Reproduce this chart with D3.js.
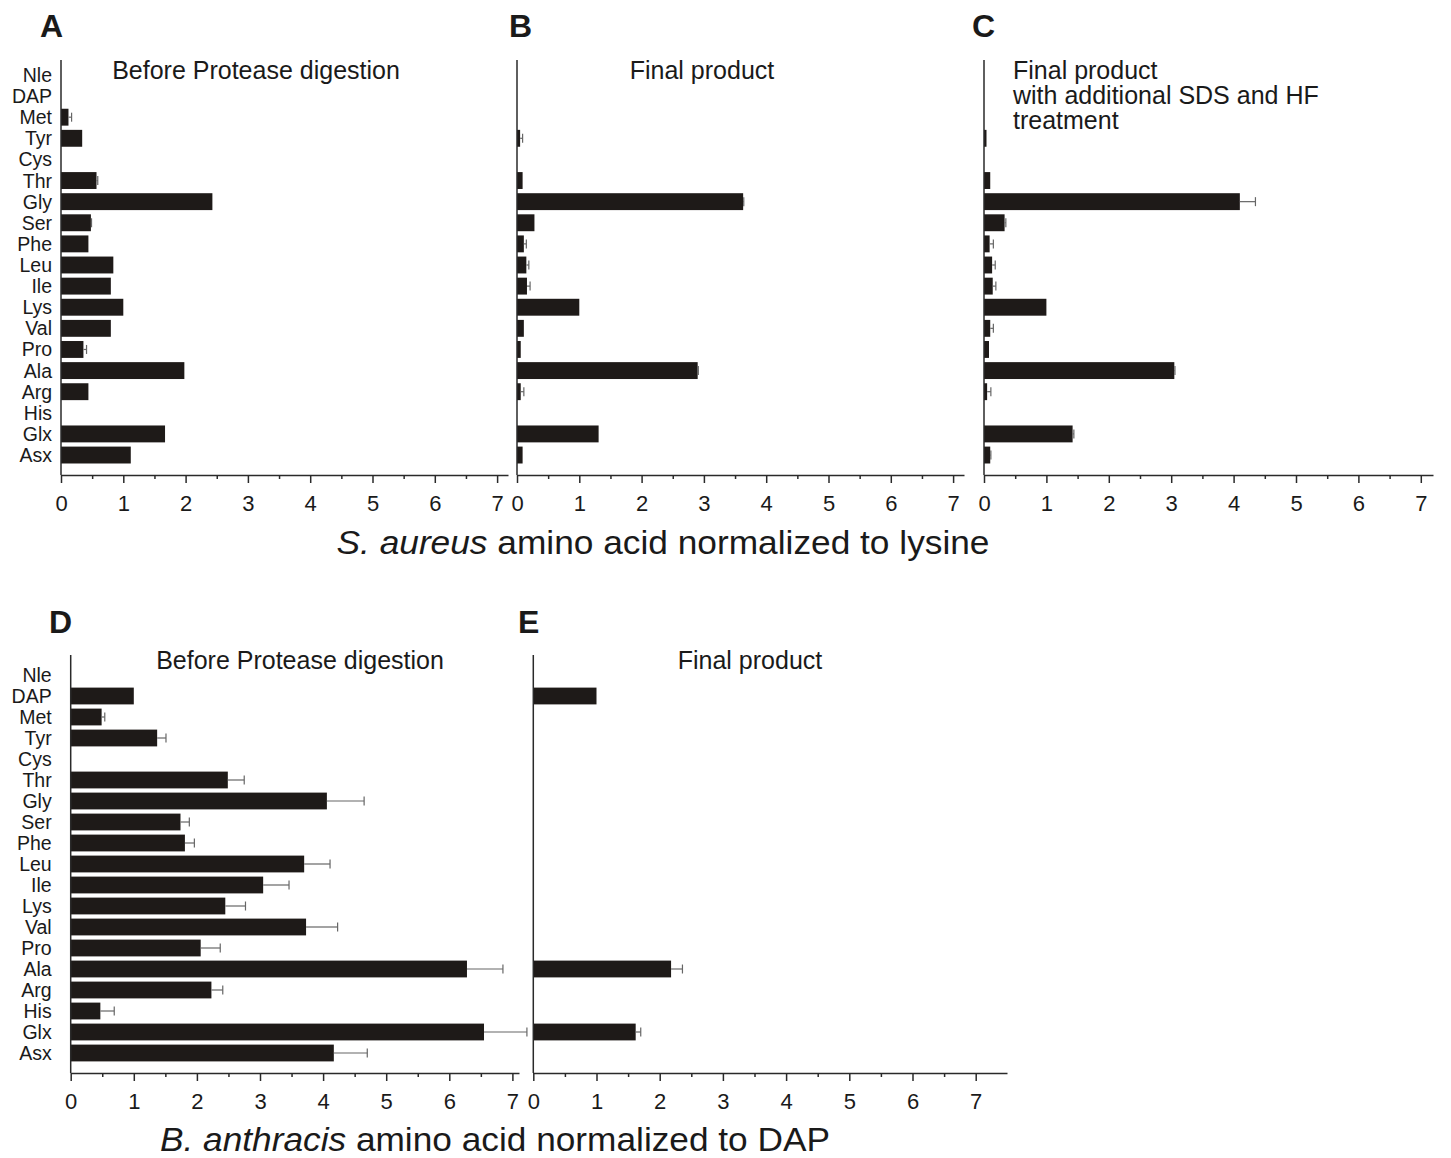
<!DOCTYPE html>
<html>
<head>
<meta charset="utf-8">
<script src="https://cdn.jsdelivr.net/npm/d3@7"></script>
<style>
  body { margin: 0; background: #fff; }
  text { font-family: "Liberation Sans", Arial, sans-serif; fill: #1a1a1a; }
</style>
</head>
<body>
<div id="chart"></div>
<script>
// categories (top to bottom)
var aminoAcids = ["Nle","DAP","Met","Tyr","Cys","Thr","Gly","Ser","Phe","Leu","Ile","Lys","Val","Pro","Ala","Arg","His","Glx","Asx"];

// S. aureus, normalized to lysine
var saBefore    = [0,0,0.12,0.34,0,0.57,2.43,0.48,0.44,0.84,0.80,1.00,0.80,0.36,1.98,0.44,0,1.67,1.12];
var saBeforeErr = [0,0,0.05,0,0,0.02,0,0.01,0,0,0,0,0,0.05,0,0,0,0,0];
var saFinal     = [0,0,0,0.05,0,0.09,3.63,0.28,0.11,0.15,0.16,1.00,0.11,0.06,2.90,0.06,0,1.31,0.09];
var saFinalErr  = [0,0,0,0.04,0,0,0.01,0,0.04,0.04,0.05,0,0,0,0.01,0.05,0,0,0];
var saSds       = [0,0,0,0.04,0,0.10,4.10,0.33,0.09,0.13,0.14,1.00,0.10,0.08,3.05,0.05,0,1.42,0.10];
var saSdsErr    = [0,0,0,0,0,0,0.25,0.02,0.06,0.05,0.05,0,0.05,0,0.01,0.06,0,0.02,0.01];

// B. anthracis, normalized to DAP
var baBefore    = [0,1.00,0.49,1.37,0,2.49,4.06,1.74,1.81,3.70,3.05,2.45,3.73,2.06,6.28,2.23,0.47,6.55,4.17];
var baBeforeErr = [0,0,0.05,0.14,0,0.26,0.59,0.14,0.15,0.41,0.41,0.32,0.50,0.31,0.57,0.18,0.22,0.68,0.53];
var baFinal     = [0,1.00,0,0,0,0,0,0,0,0,0,0,0,0,2.18,0,0,1.62,0];
var baFinalErr  = [0,0,0,0,0,0,0,0,0,0,0,0,0,0,0.18,0,0,0.08,0];

var xTicks = [0,1,2,3,4,5,6,7];
var xMinorTicks = [0.5,1.5,2.5,3.5,4.5,5.5,6.5];

var barColor = "#1e1a18";
var errColor = "#666";
var axisColor = "#2a2a2a";

var svg = d3.select("#chart")
  .append("svg")
    .attr("width", 1451)
    .attr("height", 1158);

// panel layout
var panels = [
  {letter:"A", lx:40, ly:37, vals:saBefore, errs:saBeforeErr, left:61, right:508, unit:62.3,
   top:60, bottom:475, band:[64.4,465.6], labels:true, pad:9,
   title:["Before Protease digestion"], tx:256, ty:79, anchor:"middle"},
  {letter:"B", lx:509, ly:37, vals:saFinal, errs:saFinalErr, left:517, right:964, unit:62.3,
   top:60, bottom:475, band:[64.4,465.6], labels:false,
   title:["Final product"], tx:702, ty:79, anchor:"middle"},
  {letter:"C", lx:972, ly:37, vals:saSds, errs:saSdsErr, left:984, right:1433, unit:62.4,
   top:60, bottom:475, band:[64.4,465.6], labels:false,
   title:["Final product","with additional SDS and HF","treatment"], tx:1013, ty:79, anchor:"start"},
  {letter:"D", lx:49, ly:633, vals:baBefore, errs:baBeforeErr, left:70.7, right:519, unit:63.1,
   top:655, bottom:1073, band:[664.5,1063.5], labels:true, pad:19,
   title:["Before Protease digestion"], tx:300, ty:669, anchor:"middle"},
  {letter:"E", lx:518, ly:633, vals:baFinal, errs:baFinalErr, left:533.3, right:1007, unit:63.2,
   top:655, bottom:1073, band:[664.5,1063.5], labels:false,
   title:["Final product"], tx:750, ty:669, anchor:"middle"}
];

panels.forEach(function(p) {
  var g = svg.append("g");

  var x = d3.scaleLinear()
    .domain([0, (p.right - p.left) / p.unit])
    .range([p.left, p.right]);

  var y = d3.scaleBand()
    .domain(aminoAcids)
    .range(p.band)
    .paddingInner(0.2)
    .paddingOuter(0.1);

  var rows = aminoAcids.map(function(a, i) {
    return {name: a, value: p.vals[i], err: p.errs[i]};
  });

  // bars
  g.selectAll("rect.bar")
    .data(rows.filter(function(d){ return d.value > 0 }))
    .enter()
    .append("rect")
      .attr("class", "bar")
      .attr("x", x(0))
      .attr("y", function(d){ return y(d.name) })
      .attr("width", function(d){ return x(d.value) - x(0) })
      .attr("height", y.bandwidth())
      .style("fill", barColor);

  // error bars
  var eb = g.selectAll("g.err")
    .data(rows.filter(function(d){ return d.value > 0 && d.err > 0 }))
    .enter()
    .append("g")
      .attr("class", "err")
      .style("stroke", errColor)
      .style("stroke-width", 1.2);
  eb.append("line")
    .attr("x1", function(d){ return x(d.value) })
    .attr("x2", function(d){ return x(d.value + d.err) })
    .attr("y1", function(d){ return y(d.name) + y.bandwidth()/2 })
    .attr("y2", function(d){ return y(d.name) + y.bandwidth()/2 });
  eb.append("line")
    .attr("x1", function(d){ return x(d.value + d.err) })
    .attr("x2", function(d){ return x(d.value + d.err) })
    .attr("y1", function(d){ return y(d.name) + y.bandwidth()/2 - 4.5 })
    .attr("y2", function(d){ return y(d.name) + y.bandwidth()/2 + 4.5 });

  // vertical axis line
  g.append("line")
    .attr("x1", p.left).attr("x2", p.left)
    .attr("y1", p.top).attr("y2", p.bottom)
    .style("stroke", axisColor)
    .style("stroke-width", 1.5);

  // category labels
  if (p.labels) {
    g.selectAll("text.cat")
      .data(aminoAcids)
      .enter()
      .append("text")
        .attr("class", "cat")
        .attr("x", p.left - p.pad)
        .attr("y", function(d){ return y(d) + y.bandwidth()/2 })
        .attr("dy", "0.36em")
        .attr("text-anchor", "end")
        .style("font-size", "19.5px")
        .text(function(d){ return d });
  }

  // bottom axis, major ticks
  var ax = g.append("g")
    .attr("transform", "translate(0," + p.bottom + ")")
    .call(d3.axisBottom(x).tickValues(xTicks).tickSize(8).tickSizeOuter(0).tickPadding(12)
      .tickFormat(d3.format("d")));
  ax.select(".domain").style("stroke", axisColor).style("stroke-width", 1.5);
  ax.selectAll(".tick line").style("stroke", axisColor).style("stroke-width", 1.5);
  ax.selectAll(".tick text")
    .style("font-size", "22px")
    .style("font-family", "'Liberation Sans', Arial, sans-serif")
    .style("fill", "#1a1a1a");

  // minor ticks
  var axm = g.append("g")
    .attr("transform", "translate(0," + p.bottom + ")")
    .call(d3.axisBottom(x).tickValues(xMinorTicks).tickSize(4).tickSizeOuter(0).tickFormat(""));
  axm.select(".domain").remove();
  axm.selectAll(".tick line").style("stroke", axisColor).style("stroke-width", 1.5);

  // panel title
  var t = g.append("text")
    .attr("x", p.tx)
    .attr("y", p.ty)
    .attr("text-anchor", p.anchor)
    .style("font-size", "25px");
  p.title.forEach(function(line, i) {
    t.append("tspan")
      .attr("x", p.tx)
      .attr("y", p.ty + i * 25)
      .text(line);
  });

  // panel letter
  g.append("text")
    .attr("x", p.lx)
    .attr("y", p.ly)
    .style("font-size", "32px")
    .style("font-weight", "bold")
    .text(p.letter);
});

// axis titles
var t1 = svg.append("text")
  .attr("x", 663)
  .attr("y", 554)
  .attr("text-anchor", "middle")
  .attr("textLength", 653)
  .attr("lengthAdjust", "spacingAndGlyphs")
  .style("font-size", "33px");
t1.append("tspan").style("font-style", "italic").text("S. aureus");
t1.append("tspan").text(" amino acid normalized to lysine");

var t2 = svg.append("text")
  .attr("x", 495)
  .attr("y", 1151)
  .attr("text-anchor", "middle")
  .attr("textLength", 670)
  .attr("lengthAdjust", "spacingAndGlyphs")
  .style("font-size", "33px");
t2.append("tspan").style("font-style", "italic").text("B. anthracis");
t2.append("tspan").text(" amino acid normalized to DAP");
</script>
</body>
</html>
